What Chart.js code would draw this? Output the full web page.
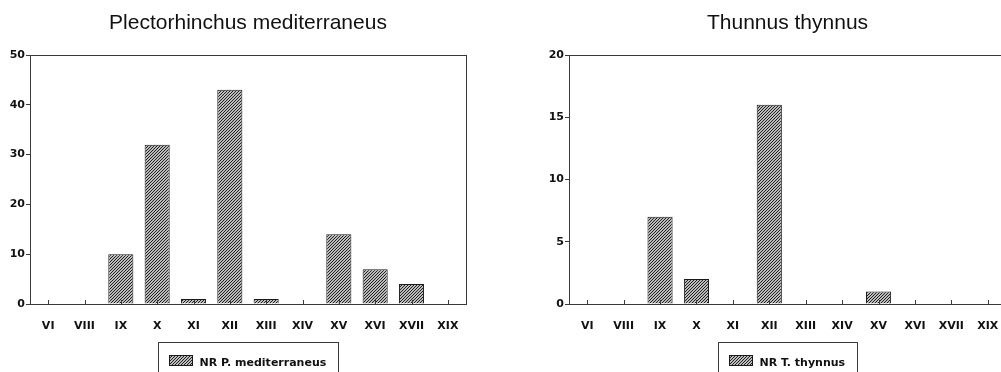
<!DOCTYPE html>
<html>
<head>
<meta charset="utf-8">
<script src="https://cdn.jsdelivr.net/npm/chart.js@4.4.0/dist/chart.umd.min.js"></script>
<style>
  html, body { margin: 0; padding: 0; background: #fff; overflow: hidden; }
  body { width: 1001px; height: 372px; position: relative; }
  .panel { position: absolute; top: 0; height: 392px; }
  #leftPanel { left: 0; width: 500px; }
  #rightPanel { left: 500px; width: 510px; }
</style>
</head>
<body>
<div class="panel" id="leftPanel"><canvas id="chartLeft"></canvas></div>
<div class="panel" id="rightPanel"><canvas id="chartRight"></canvas></div>
<script>
// Sampling sites (x axis)
const sites = ['VI', 'VIII', 'IX', 'X', 'XI', 'XII', 'XIII', 'XIV', 'XV', 'XVI', 'XVII', 'XIX'];

// Number of records per site
const plectorhinchusCounts = [0, 0, 10, 32, 1, 43, 1, 0, 14, 7, 4, 0];
const thunnusCounts = [0, 0, 7, 2, 0, 16, 0, 0, 1, 0, 0, 0];

const plectorhinchusTicks = [0, 10, 20, 30, 40, 50];
const thunnusTicks = [0, 5, 10, 15, 20];

const LINE = '#3a3a3a';
const TICK_FONT = { family: 'DejaVu Sans', size: 11, weight: 'bold' };

// Diagonal hatch fill like the original print
function makeHatch() {
    const n = 3;
    const c = document.createElement('canvas');
    c.width = n; c.height = n;
    const g = c.getContext('2d');
    g.fillStyle = '#fff';
    g.fillRect(0, 0, n, n);
    g.strokeStyle = '#151515';
    g.lineWidth = 1.1;
    g.beginPath();
    g.moveTo(0, n); g.lineTo(n, 0);
    g.moveTo(-1, 1); g.lineTo(1, -1);
    g.moveTo(n - 1, n + 1); g.lineTo(n + 1, n - 1);
    g.stroke();
    return g.createPattern(c, 'repeat');
}

// Frame, inward x ticks, title and boxed legend
const decorPlugin = {
    id: 'decor',
    afterDraw(chart, args, opts) {
        const ctx = chart.ctx;
        const a = chart.chartArea;
        const xs = chart.scales.x;
        ctx.save();
        ctx.strokeStyle = LINE;
        ctx.lineWidth = 1;
        ctx.strokeRect(Math.round(a.left) + 0.5, Math.round(a.top) + 0.5,
            Math.round(a.right - a.left), Math.round(a.bottom - a.top));

        ctx.beginPath();
        xs.ticks.forEach((t, i) => {
            const px = Math.round(xs.getPixelForTick(i)) + 0.5;
            ctx.moveTo(px, a.bottom);
            ctx.lineTo(px, a.bottom - 4);
        });
        ctx.stroke();

        const cx = (a.left + a.right) / 2;
        ctx.fillStyle = '#111';
        ctx.font = '21px "Liberation Sans", Arial, sans-serif';
        ctx.textAlign = 'center';
        ctx.textBaseline = 'alphabetic';
        ctx.fillText(opts.title, cx, 29);

        // legend
        const ds = chart.data.datasets[0];
        ctx.font = 'bold 11px "DejaVu Sans"';
        const tw = ctx.measureText(ds.label).width;
        const sw = 23;
        const boxW = 11 + sw + 7 + tw + 12;
        const bx = Math.round(cx - boxW / 2) + 0.5;
        const by = a.bottom + 38.5;
        ctx.strokeRect(bx, by, Math.round(boxW), 40);
        ctx.fillStyle = ds.backgroundColor;
        ctx.fillRect(bx + 11, by + 13, sw, 10);
        ctx.strokeStyle = '#1a1a1a';
        ctx.strokeRect(bx + 11, by + 13, sw, 10);
        ctx.fillStyle = '#111';
        ctx.textAlign = 'left';
        ctx.fillText(ds.label, bx + 11 + sw + 7, by + 23);
        ctx.restore();
    }
};

function buildChart(id, label, values, ticks, title, yWidth, padLeft, padRight) {
    return new Chart(document.getElementById(id), {
        type: 'bar',
        data: {
            labels: sites,
            datasets: [{
                label: label,
                data: values,
                backgroundColor: makeHatch(),
                borderColor: '#1a1a1a',
                borderWidth: 1,
                barPercentage: 0.69,
                categoryPercentage: 1
            }]
        },
        options: {
            responsive: true,
            maintainAspectRatio: false,
            animation: false,
            layout: { padding: { top: 55, left: padLeft, right: padRight, bottom: 0 } },
            plugins: {
                legend: { display: false },
                tooltip: { enabled: false },
                decor: { title: title }
            },
            scales: {
                x: {
                    grid: { display: false },
                    border: { display: false },
                    ticks: { color: '#111', font: TICK_FONT, padding: 8, maxRotation: 0, autoSkip: false },
                    afterFit: s => { s.height = 88; }
                },
                y: {
                    min: 0,
                    max: ticks[ticks.length - 1],
                    afterBuildTicks: s => { s.ticks = ticks.map(v => ({ value: v })); },
                    grid: { drawOnChartArea: false, drawTicks: true, tickLength: 4, color: LINE },
                    border: { display: false },
                    ticks: { color: '#111', font: TICK_FONT, padding: 1 },
                    afterFit: s => { s.width = yWidth; }
                }
            }
        },
        plugins: [decorPlugin]
    });
}

buildChart('chartLeft', 'NR P. mediterraneus', plectorhinchusCounts, plectorhinchusTicks,
    'Plectorhinchus mediterraneus', 30, 0, 34);
buildChart('chartRight', 'NR T. thynnus', thunnusCounts, thunnusTicks,
    'Thunnus thynnus', 30, 39, 4);
</script>
</body>
</html>
